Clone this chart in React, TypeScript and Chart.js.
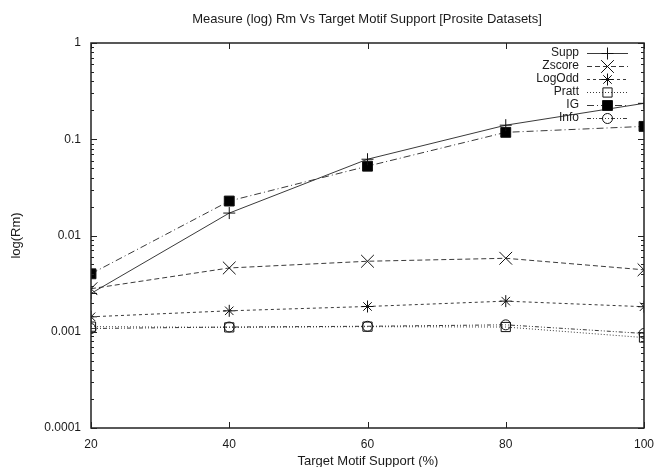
import React, { useEffect, useRef } from "react";
import { Chart, registerables } from "chart.js";

Chart.register(...registerables);

const xValues = [20, 40, 60, 80, 100];
const seriesNames = ["Supp", "Zscore", "LogOdd", "Pratt", "IG", "Info"];
const supp = [0.0025, 0.0171, 0.062, 0.14, 0.236];
const zscore = [0.0028, 0.0046, 0.0054, 0.0058, 0.0044];
const logOdd = [0.00143, 0.00165, 0.00183, 0.00208, 0.00182];
const pratt = [0.00113, 0.00111, 0.00113, 0.00112, 0.00087];
const ig = [0.004, 0.0228, 0.0525, 0.118, 0.136];
const info = [0.00108, 0.00112, 0.00114, 0.00118, 0.00096];
const yTickValues = [0.0001, 0.001, 0.01, 0.1, 1];
const yTickLabels = ["0.0001", "0.001", "0.01", "0.1", "1"];
const xTickValues = [20, 40, 60, 80, 100];

const chartTitle = "Measure (log) Rm Vs Target Motif Support [Prosite Datasets]";
const xTitle = "Target Motif Support (%)";
const yTitle = "log(Rm)";

const FONT = "'Liberation Sans', Arial, Helvetica, sans-serif";
const LINE = "#3a3a3a";

const styles = [
  { dash: [], point: "cross", radius: 6, fill: "transparent" },
  { dash: [5, 3], point: "crossRot", radius: 9, fill: "transparent" },
  { dash: [3, 3], point: "star", radius: 6, fill: "transparent" },
  { dash: [1, 2], point: "rect", radius: 6.5, fill: "transparent" },
  { dash: [7, 3, 1, 3], point: "rect", radius: 7, fill: "#000" },
  { dash: [4, 2, 1, 2, 1, 2], point: "circle", radius: 5, fill: "transparent" },
];

function drawMarker(ctx: CanvasRenderingContext2D, style: string, x: number, y: number, r: number, fill: string) {
  ctx.save();
  ctx.setLineDash([]);
  ctx.lineWidth = 1;
  ctx.strokeStyle = "#111";
  ctx.fillStyle = fill;
  ctx.beginPath();
  if (style === "cross" || style === "star") {
    ctx.moveTo(x, y - r); ctx.lineTo(x, y + r);
    ctx.moveTo(x - r, y); ctx.lineTo(x + r, y);
  }
  if (style === "crossRot" || style === "star") {
    const d = r * Math.SQRT1_2;
    ctx.moveTo(x - d, y - d); ctx.lineTo(x + d, y + d);
    ctx.moveTo(x - d, y + d); ctx.lineTo(x + d, y - d);
  }
  if (style === "rect") {
    const s = r * Math.SQRT1_2;
    ctx.rect(x - s, y - s, 2 * s, 2 * s);
    if (fill !== "transparent") ctx.fill();
  }
  if (style === "circle") {
    ctx.arc(x, y, r, 0, Math.PI * 2);
  }
  ctx.stroke();
  ctx.restore();
}

const decorPlugin = {
  id: "decor",
  afterDraw(chart: any) {
    const ctx: CanvasRenderingContext2D = chart.ctx;
    const { left, right, top, bottom } = chart.chartArea;
    const xs = chart.scales.x;
    const ys = chart.scales.y;
    ctx.save();
    // frame
    ctx.strokeStyle = "#222";
    ctx.lineWidth = 1.5;
    ctx.strokeRect(left, top, right - left, bottom - top);
    // ticks
    ctx.lineWidth = 1;
    ctx.beginPath();
    for (let k = -4; k <= 0; k++) {
      for (let d = 1; d <= 9; d++) {
        const v = d * Math.pow(10, k);
        if (v > 1.0000001) continue;
        const py = Math.round(ys.getPixelForValue(v)) + 0.5;
        const len = d === 1 ? 6 : 3;
        ctx.moveTo(left, py); ctx.lineTo(left + len, py);
        ctx.moveTo(right, py); ctx.lineTo(right - len, py);
      }
    }
    for (const xv of xTickValues) {
      const px = Math.round(xs.getPixelForValue(xv)) + 0.5;
      ctx.moveTo(px, bottom); ctx.lineTo(px, bottom - 6);
      ctx.moveTo(px, top); ctx.lineTo(px, top + 6);
    }
    ctx.stroke();
    // titles
    ctx.fillStyle = "#1a1a1a";
    ctx.font = `13px ${FONT}`;
    ctx.textAlign = "center";
    ctx.textBaseline = "middle";
    ctx.fillText(chartTitle, 367, 19);
    ctx.fillText(xTitle, 368, 461);
    ctx.save();
    ctx.translate(16, (top + bottom) / 2);
    ctx.rotate(-Math.PI / 2);
    ctx.fillText(yTitle, 0, 0);
    ctx.restore();
    // legend
    ctx.font = `12px ${FONT}`;
    chart.data.datasets.forEach((ds: any, i: number) => {
      const st = styles[i];
      const ly = 52.5 + i * 13.1;
      ctx.fillStyle = "#1a1a1a";
      ctx.textAlign = "right";
      ctx.fillText(ds.label, 579, ly);
      ctx.save();
      ctx.strokeStyle = LINE;
      ctx.lineWidth = 1;
      ctx.setLineDash(st.dash);
      ctx.beginPath();
      ctx.moveTo(587, Math.round(ly) + 0.5);
      ctx.lineTo(628, Math.round(ly) + 0.5);
      ctx.stroke();
      ctx.restore();
      drawMarker(ctx, st.point, 607.5, Math.round(ly) + 0.5, st.radius, st.fill);
    });
    ctx.restore();
  },
};

export default function App() {
  const ref = useRef<HTMLCanvasElement | null>(null);
  useEffect(() => {
    if (!ref.current) return;
    const all = [supp, zscore, logOdd, pratt, ig, info];
    const chart = new Chart(ref.current, {
      type: "line",
      data: {
        datasets: all.map((vals, i) => ({
          label: seriesNames[i],
          data: xValues.map((x, j) => ({ x, y: vals[j] })),
          borderColor: LINE,
          borderWidth: 1,
          borderDash: styles[i].dash,
          tension: 0,
          fill: false,
          pointStyle: styles[i].point as any,
          pointRadius: styles[i].radius,
          pointBorderColor: "#111",
          pointBorderWidth: 1,
          pointBackgroundColor: styles[i].fill,
        })),
      },
      options: {
        animation: false,
        responsive: false,
        devicePixelRatio: 1,
        layout: { padding: { top: 43, right: 56, bottom: 0, left: 0 } },
        plugins: { legend: { display: false }, title: { display: false }, tooltip: { enabled: false } },
        scales: {
          x: {
            type: "linear",
            min: 20,
            max: 100,
            grid: { display: false, drawTicks: false },
            border: { display: false },
            afterFit: (s: any) => { s.height = 39; },
            afterBuildTicks: (s: any) => { s.ticks = xTickValues.map((v) => ({ value: v })); },
            ticks: { color: "#1a1a1a", font: { family: FONT, size: 12 }, padding: 9, autoSkip: false, maxRotation: 0 },
          },
          y: {
            type: "logarithmic",
            min: 0.0001,
            max: 1,
            grid: { display: false, drawTicks: false },
            border: { display: false },
            afterFit: (s: any) => { s.width = 91; },
            afterBuildTicks: (s: any) => { s.ticks = yTickValues.map((v) => ({ value: v, major: true })); },
            ticks: {
              color: "#1a1a1a",
              font: { family: FONT, size: 12 },
              padding: 10,
              autoSkip: false,
              callback: (value: any) => {
                const idx = yTickValues.findIndex((v) => Math.abs(v - Number(value)) < v * 1e-6);
                return idx >= 0 ? yTickLabels[idx] : "";
              },
            },
          },
        },
      },
      plugins: [decorPlugin],
    });
    return () => chart.destroy();
  }, []);
  return (
    <div style={{ position: "fixed", left: 0, top: 0, width: 655, height: 467, overflow: "hidden", background: "#fff" }}>
      <canvas ref={ref} width={700} height={467} style={{ display: "block", width: 700, height: 467 }} />
    </div>
  );
}
